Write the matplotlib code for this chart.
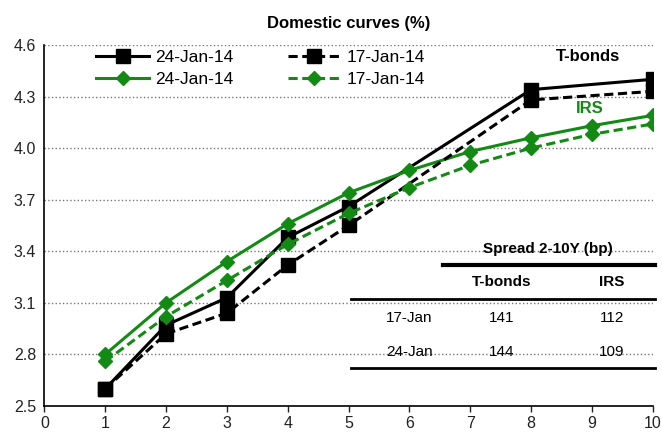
import matplotlib
matplotlib.use('Agg')
import matplotlib.pyplot as plt

plt.rcParams['font.family'] = ['Liberation Sans', 'DejaVu Sans']

# T-bonds (no points at 6, 7, 9)
tb_x = [1, 2, 3, 4, 5, 8, 10]
tb_24 = [2.60, 2.97, 3.13, 3.48, 3.66, 4.34, 4.40]
tb_17 = [2.60, 2.92, 3.04, 3.32, 3.55, 4.28, 4.33]

# IRS
irs_x = [1, 2, 3, 4, 5, 6, 7, 8, 9, 10]
irs_24 = [2.80, 3.10, 3.34, 3.56, 3.74, 3.87, 3.98, 4.06, 4.13, 4.19]
irs_17 = [2.76, 3.02, 3.23, 3.44, 3.62, 3.77, 3.90, 4.00, 4.08, 4.14]

# spread table
tbl_cols = ['T-bonds', 'IRS']
tbl_rows = ['17-Jan', '24-Jan']
tbl_vals = [[141, 112], [144, 109]]

green = '#138a13'

fig = plt.figure(figsize=(6.62, 4.34), dpi=100)
ax = fig.add_axes([0.067, 0.0645, 0.919, 0.832])

ax.plot(tb_x, tb_24, color='black', lw=2.2, marker='s', ms=9.5, label='24-Jan-14')
ax.plot(irs_x, irs_24, color=green, lw=2.2, marker='D', ms=7, label='24-Jan-14')
ax.plot(tb_x, tb_17, color='black', lw=2.2, ls=(0, (3, 1.5)), marker='s', ms=9.5, label='17-Jan-14')
ax.plot(irs_x, irs_17, color=green, lw=2.2, ls=(0, (3, 1.5)), marker='D', ms=7, label='17-Jan-14')

ax.set_xlim(0, 10)
ax.set_ylim(2.5, 4.6)
ax.set_xticks(range(0, 11))
ax.set_yticks([2.5, 2.8, 3.1, 3.4, 3.7, 4.0, 4.3, 4.6])
ax.set_yticklabels(['2.5', '2.8', '3.1', '3.4', '3.7', '4.0', '4.3', '4.6'])
ax.tick_params(labelsize=11.5, length=4, width=1, colors='#222222')
ax.tick_params(axis='y', length=0, pad=6)
ax.grid(axis='y', color='#777777', ls=':', lw=1)
ax.set_axisbelow(True)
for s in ['top', 'right']:
    ax.spines[s].set_visible(False)
for s in ['left', 'bottom']:
    ax.spines[s].set_linewidth(1.2)

ax.set_title('Domestic curves (%)', fontsize=12, fontweight='bold', pad=12)

ax.legend(ncol=2, loc='upper left', bbox_to_anchor=(0.06, 1.03), frameon=False,
          fontsize=12.5, handlelength=3.0, columnspacing=3.2, labelspacing=0.4,
          handletextpad=0.35)

ax.text(0.893, 0.967, 'T-bonds', transform=ax.transAxes, ha='center', va='center',
        fontsize=12, fontweight='bold', color='black')
ax.text(0.896, 0.825, 'IRS', transform=ax.transAxes, ha='center', va='center',
        fontsize=12, fontweight='bold', color=green)

# spread table
tf = ['Liberation Sans Narrow', 'Liberation Sans', 'DejaVu Sans']
ax.text(0.827, 0.435, 'Spread 2-10Y (bp)', transform=ax.transAxes, ha='center',
        va='center', fontsize=11, fontweight='bold', family=tf)
ax.plot([0.655, 1.003], [0.39, 0.39], transform=ax.transAxes, color='black', lw=3,
        clip_on=False)
col_x = [0.752, 0.933]
for cx, c in zip(col_x, tbl_cols):
    ax.text(cx, 0.343, c, transform=ax.transAxes, ha='center', va='center',
            fontsize=11, fontweight='bold', family=tf)
ax.plot([0.504, 1.003], [0.296, 0.296], transform=ax.transAxes, color='black', lw=2,
        clip_on=False)
row_y = [0.244, 0.150]
for ry, r, vals in zip(row_y, tbl_rows, tbl_vals):
    ax.text(0.60, ry, r, transform=ax.transAxes, ha='center', va='center',
            fontsize=11, family=tf)
    for cx, v in zip(col_x, vals):
        ax.text(cx, ry, str(v), transform=ax.transAxes, ha='center', va='center',
                fontsize=11, family=tf)
ax.plot([0.504, 1.003], [0.105, 0.105], transform=ax.transAxes, color='black', lw=2,
        clip_on=False)

fig.savefig('out.png', dpi=100)
